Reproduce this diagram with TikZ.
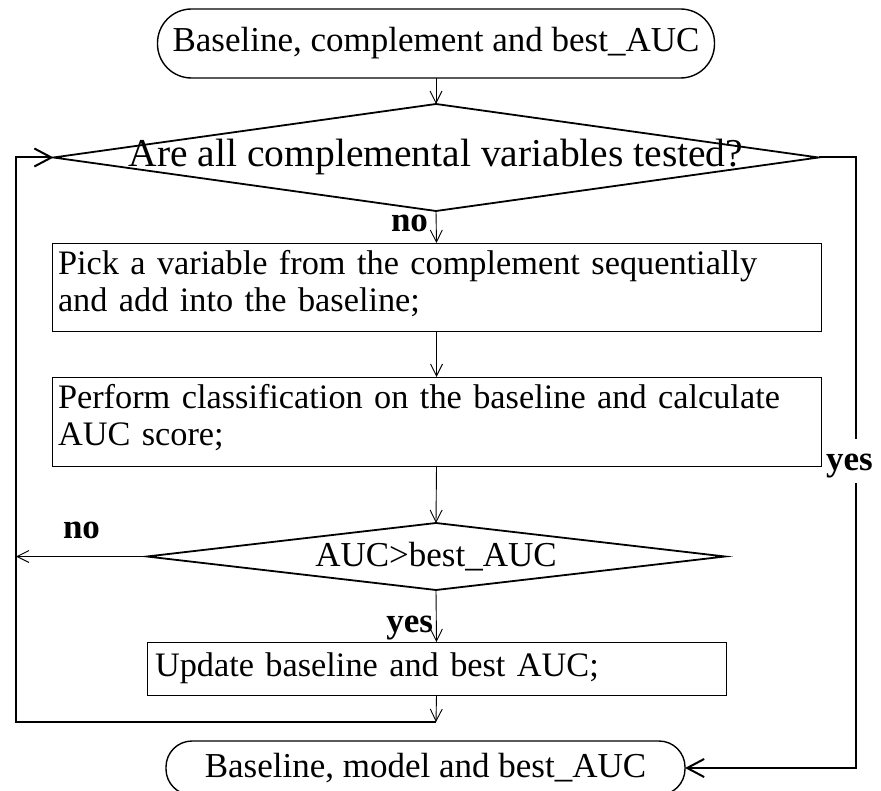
\documentclass[tikz,border=0pt]{standalone}
\usepackage{fontspec}
\setmainfont{Liberation Serif}
\usetikzlibrary{shapes.geometric,arrows.meta}
\begin{document}
\begin{tikzpicture}[x=1pt,y=-1pt,
  every node/.style={font=\fontsize{35pt}{37pt}\selectfont, inner sep=0pt, outer sep=0pt},
  termbox/.style={draw, line width=1.4pt, rectangle, align=center},
  procbox/.style={draw, line width=0.9pt, rectangle, align=left, inner xsep=6pt, font=\fontsize{34.3pt}{37pt}\selectfont},
  decision/.style={draw, line width=1.8pt, diamond, inner sep=0pt},
  thinarrow/.style={line width=0.9pt, -{Straight Barb[length=12pt,width=12pt]}},
  thickarrow/.style={line width=2pt, -{Straight Barb[length=17pt,width=18pt]}},
  labelbf/.style={font=\fontsize{35pt}{37pt}\selectfont\bfseries}]
\useasboundingbox (0,0) rectangle (881,791);

% nodes
\node[termbox, rounded corners=34pt, minimum width=557pt, minimum height=69pt] (t1) at (436,43.5) {Baseline, complement and best\_AUC};
\node[decision, minimum width=765pt, minimum height=107pt] (d1) at (436,157.5) {};
\node[procbox, text width=757pt, minimum height=88pt] (b1) at (436.5,287) {Pick a variable from the complement sequentially\\and add into the baseline;\rule[-13pt]{0pt}{13pt}};
\node[procbox, text width=757pt, minimum height=89pt] (b2) at (436.5,421.5) {Perform classification on the baseline and calculate\\AUC score;\rule[-13pt]{0pt}{13pt}};
\node[decision, minimum width=578pt, minimum height=67pt] (d2) at (436,556.5) {};
\node[procbox, inner xsep=8pt, text width=563pt, minimum height=53pt] (b3) at (436.5,668.5) {Update baseline and best AUC;};
\node[termbox, rounded corners=26pt, minimum width=519pt, minimum height=54pt] (t2) at (425.5,768) {Baseline, model and best\_AUC};

\coordinate (c1) at (436,722);
\coordinate (c2) at (16,722);
\coordinate (c3) at (16,157.5);
\coordinate (c4) at (16,556.5);
\coordinate (rx) at (856,0);

% connectors
\draw[thinarrow] (t1.south) -- (d1.north);
\draw[thinarrow] (d1.south) -- (b1.north);
\draw[thinarrow] (b1.south) -- (b2.north);
\draw[thinarrow] (b2.south) -- (d2.north);
\draw[thinarrow] (d2.south) -- (b3.north);
\draw[thinarrow] (b3.south) -- (c1);
\draw[thinarrow] (d2.west) -- (c4);
\draw[thickarrow] (c1) -- (c2) -- (c3) -- (d1.west);
\draw[thickarrow] (d1.east) -- (d1.east -| rx) |- (t2.east);

% texts in decisions
\node[font=\fontsize{39.5pt}{42pt}\selectfont] (d1t) at (d1.center) {Are all complemental variables tested?};
\node (d2t) at (d2.center) {AUC>best\_AUC};

% labels
\node[labelbf, anchor=base east] (no1) at (428,232) {no};
\node[labelbf, anchor=base east] (yes2) at (433,632) {yes};
\node[labelbf, anchor=base west] (no2) at (63,538) {no};
\node[labelbf, fill=white, inner xsep=1pt, inner ysep=5pt, text height=27pt, text depth=7pt, anchor=base] (yes1) at (849.5,471) {yes};
\end{tikzpicture}
\end{document}
